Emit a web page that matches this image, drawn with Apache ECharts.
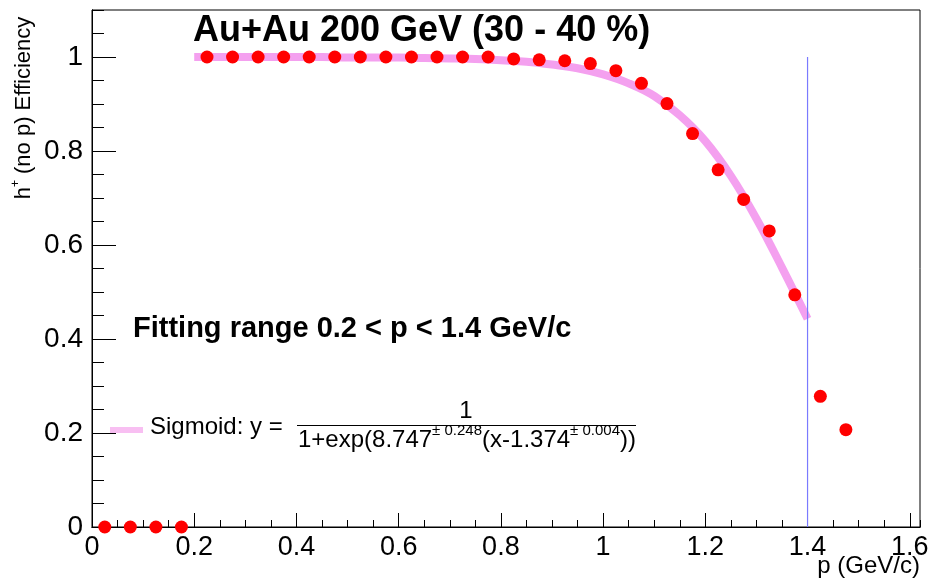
<!DOCTYPE html>
<html><head><meta charset="utf-8">
<script src="https://cdn.jsdelivr.net/npm/echarts@6/dist/echarts.min.js"></script>
<style>html,body{margin:0;padding:0;background:#fff}#c{width:930px;height:580px}</style>
</head><body><div id="c"></div>
<script>
// ---- data ----
const pX = [0.025,0.075,0.125,0.175,0.225,0.275,0.325,0.375,0.425,0.475,0.525,0.575,0.625,0.675,0.725,0.775,0.825,0.875,0.925,0.975,1.025,1.075,1.125,1.175,1.225,1.275,1.325,1.375,1.425,1.475];
const pEff = [0,0,0,0,1.000,1.000,1.000,1.000,1.000,1.000,1.000,1.000,1.000,1.000,1.000,1.000,0.996,0.994,0.992,0.986,0.971,0.944,0.901,0.837,0.760,0.697,0.630,0.494,0.278,0.207];
const fitX = [0.2,0.25,0.3,0.35,0.4,0.45,0.5,0.55,0.6,0.65,0.7,0.75,0.8,0.85,0.9,0.95,1.0,1.05,1.1,1.15,1.2,1.25,1.3,1.35,1.4];
const fitY = [1.000,1.000,1.000,1.000,1.000,1.000,0.999,0.999,0.999,0.998,0.997,0.996,0.993,0.990,0.984,0.976,0.963,0.944,0.917,0.876,0.821,0.747,0.656,0.552,0.443];
const cutX = [1.4,1.4];
const cutY = [0,1];
const xTickLabels = ['0','0.2','0.4','0.6','0.8','1','1.2','1.4','1.6'];
const yTickLabels = ['0','0.2','0.4','0.6','0.8','1'];
const titleText = 'Au+Au 200 GeV (30 - 40 %)';
const rangeText = 'Fitting range 0.2 < p < 1.4 GeV/c';
const xName = 'p (GeV/c)';

const FONT = '"Liberation Sans", Arial, Helvetica, sans-serif';
const X_MIN = 0, X_MAX = 1.62, Y_MIN = 0, Y_MAX = 1.1;

function labelFrom(list, step) {
  return function (v) {
    const i = Math.round(v / step);
    return (Math.abs(v - i * step) < 1e-6 && i >= 0 && i < list.length) ? list[i] : '';
  };
}

const chart = echarts.init(document.getElementById('c'), null, {renderer: 'canvas'});
const baseAxis = {
  type: 'value', splitLine: {show: false}, axisLine: {show: true, onZero: false, lineStyle: {color: '#000', width: 1}}
};
chart.setOption({
  animation: false,
  backgroundColor: '#fff',
  grid: {left: 92, right: 10, top: 10, bottom: 53, show: true, borderColor: '#000', borderWidth: 1, containLabel: false, outerBoundsMode: 'none'},
  xAxis: [
    Object.assign({}, baseAxis, {
      min: X_MIN, max: X_MAX, interval: 0.2, position: 'bottom',
      axisTick: {show: true, inside: true, length: 14, lineStyle: {color: '#000', width: 1}},
      axisLabel: {show: true, fontSize: 27, color: '#000', fontFamily: FONT, margin: 7, formatter: labelFrom(xTickLabels, 0.2), showMaxLabel: false}
    }),
    Object.assign({}, baseAxis, {
      min: X_MIN, max: X_MAX, interval: 0.05, position: 'bottom',
      axisTick: {show: true, inside: true, length: 7, lineStyle: {color: '#000', width: 1}},
      axisLabel: {show: false}
    })
  ],
  yAxis: [
    Object.assign({}, baseAxis, {
      min: Y_MIN, max: Y_MAX, interval: 0.2, position: 'left',
      axisTick: {show: true, inside: true, length: 24, lineStyle: {color: '#000', width: 1}},
      axisLabel: {show: true, fontSize: 28, color: '#000', fontFamily: FONT, margin: 9, formatter: labelFrom(yTickLabels, 0.2), showMaxLabel: false}
    }),
    Object.assign({}, baseAxis, {
      min: Y_MIN, max: Y_MAX, interval: 0.05, position: 'left',
      axisTick: {show: true, inside: true, length: 12, lineStyle: {color: '#000', width: 1}},
      axisLabel: {show: false}
    })
  ],
  series: [
    {
      name: 'Sigmoid', type: 'line', xAxisIndex: 0, yAxisIndex: 0,
      data: fitX.map((x, i) => [x, fitY[i]]),
      showSymbol: false, symbol: 'none', smooth: 0.4, silent: true, z: 2,
      lineStyle: {color: '#f4a0ef', width: 8, cap: 'butt', opacity: 1}
    },
    {
      name: 'cut', type: 'line', xAxisIndex: 0, yAxisIndex: 0,
      data: cutX.map((x, i) => [x, cutY[i]]),
      showSymbol: false, symbol: 'none', silent: true, z: 3,
      lineStyle: {color: '#7a7aff', width: 1.2, opacity: 1}
    },
    {
      name: 'eff', type: 'scatter', xAxisIndex: 0, yAxisIndex: 0,
      data: pX.map((x, i) => [x, pEff[i]]),
      symbol: 'circle', symbolSize: 13, clip: false, z: 4,
      itemStyle: {color: '#ff0000', borderWidth: 0, opacity: 1}
    }
  ],
  graphic: [
    {type: 'text', x: 193, y: 31, z: 10, style: {text: titleText, fontSize: 36, fontWeight: 'bold', fontFamily: FONT, fill: '#000', align: 'left', textAlign: 'left', verticalAlign: 'middle', textVerticalAlign: 'middle'}},
    {type: 'text', x: 133, y: 329, z: 10, style: {text: rangeText, fontSize: 29, fontWeight: 'bold', fontFamily: FONT, fill: '#000', align: 'left', textAlign: 'left', verticalAlign: 'middle', textVerticalAlign: 'middle'}},
    {type: 'text', x: 920, y: 566, z: 10, style: {text: xName, fontSize: 24, fontFamily: FONT, fill: '#000', align: 'right', textAlign: 'right', verticalAlign: 'middle', textVerticalAlign: 'middle'}},
    {type: 'text', x: 24, y: 108, rotation: Math.PI / 2, z: 10, style: {
      text: '{n|h}{s|+}{n| (no p) Efficiency}', fontFamily: FONT, fill: '#000',
      align: 'center', textAlign: 'center', verticalAlign: 'middle', textVerticalAlign: 'middle',
      rich: {n: {fontSize: 22, fontFamily: FONT, lineHeight: 28, verticalAlign: 'middle', fill: '#000'},
             s: {fontSize: 12, fontFamily: FONT, lineHeight: 12, verticalAlign: 'top', fill: '#000'}}
    }},
    {type: 'rect', z: 10, shape: {x: 110, y: 427, width: 33, height: 6}, style: {fill: '#f8bff2'}},
    {type: 'text', x: 150, y: 427, z: 10, style: {text: 'Sigmoid: y =', fontSize: 24, fontFamily: FONT, fill: '#000', align: 'left', textAlign: 'left', verticalAlign: 'middle', textVerticalAlign: 'middle'}},
    {type: 'line', z: 10, shape: {x1: 297, y1: 425.5, x2: 636, y2: 425.5}, style: {stroke: '#000', lineWidth: 1}},
    {type: 'text', x: 466, y: 411, z: 10, style: {text: '1', fontSize: 24, fontFamily: FONT, fill: '#000', align: 'center', textAlign: 'center', verticalAlign: 'middle', textVerticalAlign: 'middle'}},
    {type: 'text', x: 298, y: 440, z: 10, style: {
      text: '{n|1+exp(8.747}{s|± 0.248}{n|(x-1.374}{s|± 0.004}{n|))}', fontFamily: FONT, fill: '#000',
      align: 'left', textAlign: 'left', verticalAlign: 'middle', textVerticalAlign: 'middle',
      rich: {n: {fontSize: 24, fontFamily: FONT, lineHeight: 34, verticalAlign: 'middle', fill: '#000'},
             s: {fontSize: 15, fontFamily: FONT, lineHeight: 15, verticalAlign: 'top', fill: '#000'}}
    }}
  ]
});
</script>
</body></html>
